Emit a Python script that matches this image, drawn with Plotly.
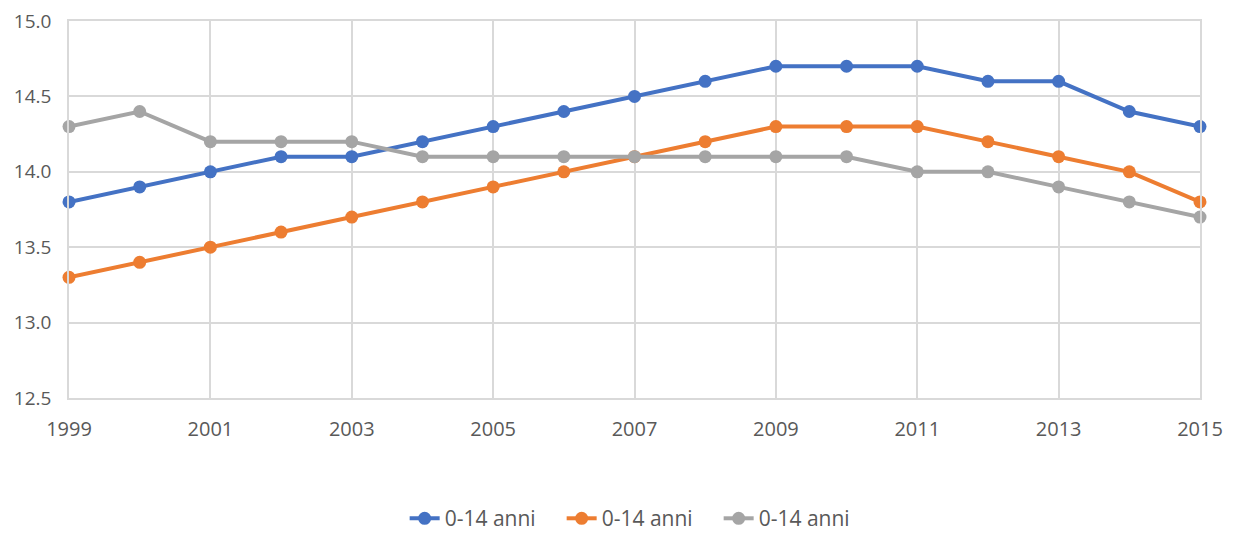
import plotly.graph_objects as go

years = list(range(1999, 2016))
series_names = ["0-14 anni", "0-14 anni", "0-14 anni"]
blue_vals = [13.8, 13.9, 14.0, 14.1, 14.1, 14.2, 14.3, 14.4, 14.5, 14.6, 14.7, 14.7, 14.7, 14.6, 14.6, 14.4, 14.3]
orange_vals = [13.3, 13.4, 13.5, 13.6, 13.7, 13.8, 13.9, 14.0, 14.1, 14.2, 14.3, 14.3, 14.3, 14.2, 14.1, 14.0, 13.8]
gray_vals = [14.3, 14.4, 14.2, 14.2, 14.2, 14.1, 14.1, 14.1, 14.1, 14.1, 14.1, 14.1, 14.0, 14.0, 13.9, 13.8, 13.7]
colors = ["#4472C4", "#ED7D31", "#A5A5A5"]
y_ticks = [12.5, 13.0, 13.5, 14.0, 14.5, 15.0]
x_ticks = list(range(1999, 2016, 2))

fig = go.Figure()
for name, vals, col in zip(series_names, [blue_vals, orange_vals, gray_vals], colors):
    fig.add_trace(go.Scatter(
        x=years, y=vals, name=name, mode="lines+markers",
        line=dict(color=col, width=4),
        marker=dict(color=col, size=13),
        cliponaxis=False,
    ))

font_fam = "Open Sans, sans-serif"
grid = "#D9D9D9"
fig.update_layout(
    width=1227, height=527,
    margin=dict(l=61, r=35, t=13, b=137, autoexpand=False),
    plot_bgcolor="white", paper_bgcolor="white",
    font=dict(family=font_fam, size=20, color="#595959"),
    showlegend=True,
    legend=dict(orientation="h", x=0.505, xanchor="center", y=-0.32, yanchor="middle",
                font=dict(size=21, color="#595959"), itemwidth=30,
                entrywidth=112, entrywidthmode="pixels"),
    xaxis=dict(range=[1999, 2015], tickvals=x_ticks, ticktext=[str(t) for t in x_ticks],
               showgrid=True, gridcolor=grid, gridwidth=1.5, zeroline=False,
               showline=True, linecolor=grid, linewidth=1.5, mirror=True,
               ticks="", ticklabelstandoff=12, automargin=False, ticklabeloverflow="allow"),
    yaxis=dict(range=[12.5, 15.0], tickvals=y_ticks, ticktext=[f"{t:.1f}" for t in y_ticks],
               showgrid=True, gridcolor=grid, gridwidth=1.5, zeroline=False,
               showline=True, linecolor=grid, linewidth=1.5, mirror=True,
               tickfont=dict(size=19),
               ticks="", ticklabelstandoff=12, automargin=False, ticklabeloverflow="allow"),
)

fig.write_html("out.html")
